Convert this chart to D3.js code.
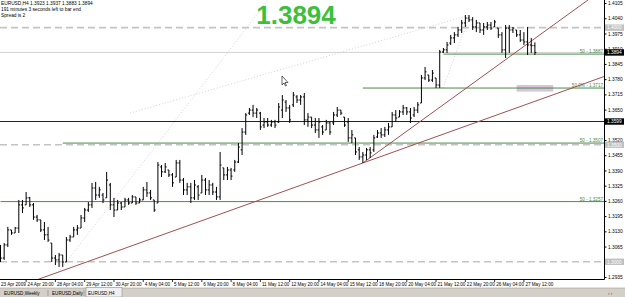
<!DOCTYPE html>
<html>
<head>
<meta charset="utf-8">
<script src="https://cdn.jsdelivr.net/npm/d3@7"></script>
<style>
  body { margin: 0; background: #fff; }
  svg { display: block; }
</style>
</head>
<body>
<div id="chart"></div>
<script>
// EURUSD H4 bars, 23 Apr 2009 -> 27 May 2009
const barOpen = [1.3051,1.3016,1.3072,1.3136,1.3123,1.3144,1.3243,1.3243,1.3273,1.3243,1.3191,1.3179,1.3136,1.3115,1.3080,1.3016,1.3008,1.3029,1.2999,1.3093,
1.3106,1.3136,1.3144,1.3187,1.3221,1.3243,1.3315,1.3285,1.3285,1.3273,1.3328,1.3243,1.3221,1.3251,1.3234,1.3264,1.3251,1.3277,1.3251,1.3264,
1.3307,1.3294,1.3264,1.3251,1.3405,1.3384,1.3392,1.3371,1.3362,1.3422,1.3349,1.3307,1.3320,1.3273,1.3320,1.3294,1.3349,1.3307,1.3328,1.3298,
1.3277,1.3401,1.3371,1.3392,1.3392,1.3426,1.3478,1.3554,1.3635,1.3648,1.3635,1.3635,1.3584,1.3597,1.3584,1.3597,1.3597,1.3648,1.3682,1.3657,
1.3670,1.3704,1.3691,1.3704,1.3606,1.3618,1.3584,1.3563,1.3576,1.3563,1.3593,1.3593,1.3627,1.3648,1.3618,1.3597,1.3529,1.3529,1.3478,1.3448,
1.3456,1.3478,1.3478,1.3533,1.3550,1.3542,1.3563,1.3576,1.3627,1.3618,1.3640,1.3657,1.3640,1.3627,1.3648,1.3678,1.3785,1.3798,1.3776,1.3785,
1.3755,1.3896,1.3905,1.3934,1.3956,1.3969,1.3990,1.4020,1.4041,1.4033,1.4003,1.4020,1.3990,1.4003,1.4011,1.4003,1.3998,1.3969,1.3905,1.3998,
1.3990,1.3990,1.3969,1.3947,1.3939,1.3926,1.3923];
const barHigh = [1.3072,1.3080,1.3149,1.3136,1.3149,1.3264,1.3264,1.3298,1.3277,1.3251,1.3200,1.3179,1.3170,1.3149,1.3080,1.3029,1.3038,1.3029,1.3106,1.3115,
1.3149,1.3157,1.3200,1.3230,1.3255,1.3337,1.3341,1.3320,1.3294,1.3384,1.3337,1.3273,1.3264,1.3255,1.3273,1.3273,1.3285,1.3277,1.3273,1.3320,
1.3341,1.3307,1.3264,1.3426,1.3413,1.3422,1.3392,1.3379,1.3435,1.3435,1.3358,1.3337,1.3337,1.3349,1.3328,1.3371,1.3358,1.3349,1.3337,1.3320,
1.3469,1.3401,1.3405,1.3401,1.3435,1.3507,1.3571,1.3635,1.3657,1.3670,1.3657,1.3640,1.3614,1.3614,1.3606,1.3606,1.3678,1.3712,1.3691,1.3670,
1.3725,1.3712,1.3712,1.3721,1.3635,1.3618,1.3614,1.3614,1.3584,1.3606,1.3597,1.3640,1.3661,1.3648,1.3618,1.3614,1.3563,1.3529,1.3490,1.3469,
1.3486,1.3490,1.3542,1.3563,1.3571,1.3576,1.3593,1.3640,1.3648,1.3648,1.3670,1.3661,1.3657,1.3661,1.3682,1.3798,1.3832,1.3798,1.3819,1.3785,
1.3905,1.3913,1.3939,1.3969,1.3981,1.4003,1.4033,1.4054,1.4054,1.4045,1.4033,1.4020,1.4020,1.4024,1.4024,1.4033,1.3998,1.3981,1.4011,1.4011,
1.4003,1.3990,1.3990,1.3981,1.4003,1.3956,1.3937];
const barLow = [1.2999,1.3008,1.3063,1.3115,1.3123,1.3123,1.3208,1.3243,1.3234,1.3179,1.3170,1.3127,1.3093,1.3085,1.2999,1.2986,1.2978,1.2978,1.2999,1.3085,
1.3106,1.3115,1.3144,1.3170,1.3213,1.3230,1.3264,1.3273,1.3251,1.3273,1.3221,1.3191,1.3221,1.3221,1.3234,1.3243,1.3251,1.3243,1.3251,1.3264,
1.3277,1.3264,1.3213,1.3251,1.3362,1.3379,1.3362,1.3320,1.3362,1.3337,1.3285,1.3285,1.3251,1.3264,1.3264,1.3294,1.3285,1.3285,1.3285,1.3264,
1.3264,1.3349,1.3349,1.3349,1.3384,1.3422,1.3456,1.3542,1.3627,1.3618,1.3614,1.3563,1.3571,1.3576,1.3576,1.3571,1.3593,1.3614,1.3640,1.3593,
1.3661,1.3678,1.3670,1.3584,1.3576,1.3571,1.3550,1.3529,1.3542,1.3563,1.3542,1.3584,1.3618,1.3627,1.3576,1.3512,1.3507,1.3456,1.3435,1.3422,
1.3435,1.3443,1.3469,1.3529,1.3529,1.3533,1.3542,1.3576,1.3597,1.3618,1.3627,1.3627,1.3593,1.3618,1.3635,1.3678,1.3776,1.3768,1.3768,1.3742,
1.3742,1.3892,1.3892,1.3926,1.3934,1.3960,1.3977,1.4003,1.4024,1.3990,1.3981,1.3977,1.3969,1.3990,1.3990,1.4003,1.3956,1.3892,1.3870,1.3892,
1.3977,1.3960,1.3939,1.3926,1.3883,1.3892,1.3883];
const barClose = [1.3016,1.3072,1.3136,1.3123,1.3144,1.3243,1.3230,1.3273,1.3243,1.3191,1.3179,1.3136,1.3115,1.3093,1.3016,1.3008,1.3029,1.2999,1.3093,1.3106,
1.3136,1.3144,1.3187,1.3221,1.3243,1.3315,1.3285,1.3307,1.3264,1.3349,1.3243,1.3221,1.3251,1.3234,1.3264,1.3251,1.3277,1.3251,1.3264,1.3307,
1.3294,1.3273,1.3221,1.3413,1.3384,1.3405,1.3371,1.3337,1.3422,1.3349,1.3307,1.3320,1.3273,1.3328,1.3285,1.3349,1.3307,1.3328,1.3298,1.3277,
1.3413,1.3371,1.3392,1.3366,1.3426,1.3490,1.3554,1.3627,1.3648,1.3635,1.3648,1.3576,1.3597,1.3584,1.3597,1.3584,1.3661,1.3691,1.3657,1.3606,
1.3712,1.3691,1.3704,1.3606,1.3618,1.3584,1.3563,1.3597,1.3554,1.3593,1.3554,1.3627,1.3648,1.3635,1.3584,1.3529,1.3542,1.3469,1.3448,1.3456,
1.3478,1.3465,1.3529,1.3550,1.3542,1.3563,1.3576,1.3627,1.3614,1.3640,1.3657,1.3640,1.3614,1.3648,1.3670,1.3785,1.3811,1.3776,1.3806,1.3755,
1.3896,1.3905,1.3926,1.3956,1.3969,1.3990,1.4020,1.4041,1.4033,1.4003,1.4020,1.3990,1.4003,1.4011,1.3998,1.4024,1.3969,1.3905,1.3998,1.3990,
1.3998,1.3969,1.3947,1.3939,1.3926,1.3923,1.3894];

// time axis: bar index of each label
const timeTickIdx = [7,15,23,31,39,47,55,63,71,79,87,95,103,111,119,127,135,143];
const timeTickLabels = ["24 Apr 20:00","28 Apr 04:00","29 Apr 12:00","30 Apr 20:00","4 May 04:00","5 May 12:00",
  "6 May 20:00","8 May 04:00","11 May 12:00","12 May 20:00","14 May 04:00","15 May 12:00","18 May 20:00",
  "20 May 04:00","21 May 12:00","22 May 20:00","26 May 04:00","27 May 12:00"];
const firstDateLabel = "23 Apr 2009";

// price axis
const priceTicks = [1.4105,1.4040,1.3975,1.3910,1.3845,1.3780,1.3715,1.3650,1.3520,1.3455,1.3390,1.3325,1.3260,1.3195,1.3130,1.3065,1.2935];
const roundLevels = [1.4000, 1.3500, 1.3000];           // grey dashed levels
const blackLevels = [1.3599];                            // solid black level
const bidPrice = 1.3894;

// fibo 50% lines
const fiboPrices = [1.3887, 1.3742, 1.3507, 1.3257];
const fiboText = ["50 - 1.3887", "50.0% - 1.3717", "50 - 1.3507", "50 - 1.3257"];
const fiboStart = [121, 99, 17, 0];

// trend lines: [bar, price] anchor pairs
const trendA = [[16, 1.2957], [99, 1.3422]];
const trendB = [[99, 1.3422], [160.5, 1.4118]];

// dotted helper lines (fibo baselines): [bar, price] pairs
const dotted = [
  [[16.3, 1.2965], [73.1, 1.4118]],
  [[35.4, 1.3635], [128.3, 1.4054]],
  [[120.9, 1.3742], [128.3, 1.4054]]
];

const headerLines = ["EURUSD,H4  1.3923 1.3937 1.3883 1.3894", "191 minutes 3 seconds left to bar end", "Spread is 2"];
const tabs = ["EURUSD,Weekly", "EURUSD,Daily", "EURUSD,H4"];

const W = 625, H = 297;
const plotR = 604, plotB = 279;
const font = "Liberation Sans, Arial, sans-serif";

const svg = d3.select("#chart").append("svg").attr("width", W).attr("height", H);

const x = d3.scaleLinear().domain([0, 146]).range([0.5, 534.9]);
const y = d3.scaleLinear().domain([1.2935, 1.4118]).range([277, 0]);

svg.append("defs").append("clipPath").attr("id", "plot")
  .append("rect").attr("x", 0).attr("y", 0).attr("width", plotR).attr("height", plotB);

const plot = svg.append("g").attr("clip-path", "url(#plot)");

// dotted helper lines
dotted.forEach(d => {
  plot.append("line").attr("x1", x(d[0][0])).attr("y1", y(d[0][1])).attr("x2", x(d[1][0])).attr("y2", y(d[1][1]))
    .attr("stroke", "#c8c8c8").attr("stroke-width", 0.8).attr("stroke-dasharray", "1,2");
});

// round-number dashed levels
roundLevels.forEach(p => {
  plot.append("line").attr("x1", 0).attr("x2", plotR).attr("y1", y(p)).attr("y2", y(p))
    .attr("stroke", "#c4c4c4").attr("stroke-width", 1.6).attr("stroke-dasharray", "7,4");
});

// bid line
plot.append("line").attr("x1", 0).attr("x2", plotR).attr("y1", y(bidPrice)).attr("y2", y(bidPrice))
  .attr("stroke", "#c8c8c8").attr("stroke-width", 0.8);

// black level
blackLevels.forEach(p => {
  plot.append("line").attr("x1", 0).attr("x2", plotR).attr("y1", y(p)).attr("y2", y(p))
    .attr("stroke", "#222").attr("stroke-width", 1);
});

// purple zone
plot.append("rect").attr("x", x(141)).attr("y", y(1.3755)).attr("width", x(151) - x(141))
  .attr("height", y(1.3727) - y(1.3755)).attr("fill", "#d9c3d9");

// fibo lines
fiboPrices.forEach((p, k) => {
  plot.append("line").attr("x1", x(fiboStart[k])).attr("x2", plotR).attr("y1", y(p)).attr("y2", y(p))
    .attr("stroke", "#4a8a4a").attr("stroke-width", 1);
  plot.append("text").attr("x", plotR - 1).attr("y", y(p) - 1).attr("text-anchor", "end")
    .attr("font-family", font).attr("font-size", 4.6).attr("fill", "#4a8a4a").text(fiboText[k]);
});

// trend lines (extended to the plot edges)
[trendA, trendB].forEach(t => {
  const slope = (t[1][1] - t[0][1]) / (t[1][0] - t[0][0]);
  const i0 = t === trendA ? -20 : t[0][0];
  const i1 = 200;
  plot.append("line")
    .attr("x1", x(i0)).attr("y1", y(t[0][1] + slope * (i0 - t[0][0])))
    .attr("x2", x(i1)).attr("y2", y(t[0][1] + slope * (i1 - t[0][0])))
    .attr("stroke", "#a05050").attr("stroke-width", 1);
});

// OHLC bars
const bars = plot.append("g").attr("stroke", "#000").attr("stroke-width", 1);
barHigh.forEach((h, i) => {
  const cx = x(i);
  bars.append("line").attr("x1", cx).attr("x2", cx).attr("y1", y(h)).attr("y2", y(barLow[i]));
  bars.append("line").attr("x1", cx - 1.4).attr("x2", cx).attr("y1", y(barOpen[i])).attr("y2", y(barOpen[i]));
  bars.append("line").attr("x1", cx).attr("x2", cx + 1.4).attr("y1", y(barClose[i])).attr("y2", y(barClose[i]));
});

// header text
headerLines.forEach((t, k) => {
  svg.append("text").attr("x", 1).attr("y", 5 + k * 6).attr("font-family", font).attr("font-size", 4.8)
    .attr("fill", "#000").text(t);
});

// big price
svg.append("text").attr("x", 296).attr("y", 24).attr("text-anchor", "middle")
  .attr("font-family", font).attr("font-weight", "bold").attr("font-size", 26)
  .attr("fill", "#3cc03c").text(d3.format(".4f")(bidPrice));

// mouse cursor
svg.append("path").attr("d", "M282,76 L282,85 L284,83 L285.5,86 L286.5,85.5 L285,82.5 L288,82.5 Z")
  .attr("fill", "#fff").attr("stroke", "#000").attr("stroke-width", 0.6);

// frame
svg.append("line").attr("x1", plotR + 0.5).attr("x2", plotR + 0.5).attr("y1", 0).attr("y2", plotB + 0.5).attr("stroke", "#000");
svg.append("line").attr("x1", 0).attr("x2", plotR + 0.5).attr("y1", plotB + 0.5).attr("y2", plotB + 0.5).attr("stroke", "#000");

// price axis
const yAxis = d3.axisRight(y).tickValues(priceTicks).tickSize(2).tickSizeOuter(0).tickPadding(1.5)
  .tickFormat(d3.format(".4f"));
const ya = svg.append("g").attr("transform", `translate(${plotR + 0.5},0)`).call(yAxis);
ya.select(".domain").remove();
ya.selectAll("text").attr("font-family", font).attr("font-size", 4.8).attr("fill", "#000");

// price boxes
function priceBox(p, bg, fg) {
  const g = svg.append("g").attr("transform", `translate(${plotR + 1},${y(p)})`);
  g.append("rect").attr("x", 0).attr("y", -3.2).attr("width", 19).attr("height", 6.4).attr("fill", bg);
  g.append("text").attr("x", 2).attr("y", 1.8).attr("font-family", font).attr("font-size", 4.8)
    .attr("fill", fg).text(d3.format(".4f")(p));
}
roundLevels.forEach(p => priceBox(p, "#c0c0c0", "#fff"));
blackLevels.forEach(p => priceBox(p, "#000", "#fff"));
priceBox(bidPrice, "#000", "#fff");

// time axis
const xa = svg.append("g");
timeTickIdx.forEach((idx, k) => {
  xa.append("line").attr("x1", x(idx)).attr("x2", x(idx)).attr("y1", plotB).attr("y2", plotB + 3).attr("stroke", "#000").attr("stroke-width", 0.8);
  xa.append("text").attr("x", x(idx) + 1.5).attr("y", 286).attr("font-family", font).attr("font-size", 4.6)
    .attr("fill", "#000").text(timeTickLabels[k]);
});
xa.append("text").attr("x", 1).attr("y", 286).attr("font-family", font).attr("font-size", 4.6).text(firstDateLabel);

// tab bar
svg.append("rect").attr("x", 0).attr("y", 288).attr("width", W).attr("height", 9).attr("fill", "#d4d0c8");
svg.append("line").attr("x1", 0).attr("x2", W).attr("y1", 288).attr("y2", 288).attr("stroke", "#a0a0a0").attr("stroke-width", 0.6);
const tabX = [2, 50, 86];
const tabW = [46, 34, 36];
tabs.forEach((t, k) => {
  if (k === 2) {
    svg.append("rect").attr("x", tabX[k]).attr("y", 287.5).attr("width", tabW[k]).attr("height", 9.5)
      .attr("fill", "#f0f0f0").attr("stroke", "#808080").attr("stroke-width", 0.5);
  } else {
    svg.append("line").attr("x1", tabX[k] + tabW[k]).attr("x2", tabX[k] + tabW[k]).attr("y1", 290).attr("y2", 296)
      .attr("stroke", "#808080").attr("stroke-width", 0.6);
  }
  svg.append("text").attr("x", tabX[k] + 2).attr("y", 294.5).attr("font-family", font).attr("font-size", 4.6)
    .attr("fill", "#000").text(t);
});
svg.append("text").attr("x", 608).attr("y", 294.5).attr("font-family", font).attr("font-size", 4.6).attr("fill", "#555").text("‹  ›");
</script>
</body>
</html>
